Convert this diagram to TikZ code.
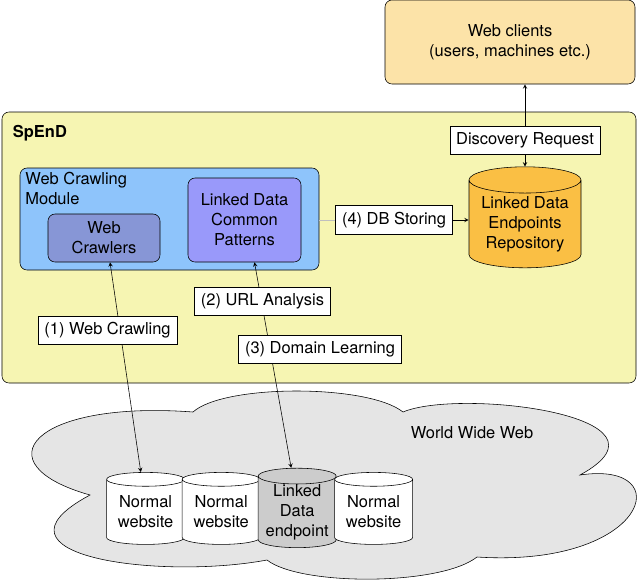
\documentclass[tikz,border=0pt]{standalone}
\usepackage{fontspec}
\setmainfont{TeX Gyre Heros}
\usetikzlibrary{shapes.geometric}
\definecolor{jaune}{RGB}{246,245,178}
\definecolor{clients}{RGB}{252,227,168}
\definecolor{module}{RGB}{142,196,251}
\definecolor{crawlers}{RGB}{135,150,214}
\definecolor{motifs}{RGB}{153,153,250}
\definecolor{depot}{RGB}{250,191,68}
\definecolor{nuage}{RGB}{229,229,229}
\definecolor{point}{RGB}{204,204,204}

\begin{document}
\begin{tikzpicture}[font=\fontsize{11.7}{14.2}\selectfont]
\tikzstyle{lien}=[<->,>=stealth,thin]
\tikzset{boite/.style={draw,thin,rounded corners=5pt,fill=#1,align=center},
boite/.default={white}}
\tikzset{etiquette/.style={draw,thin,fill=white,inner sep=4.5pt}}
\tikzset{base/.style={draw,thin,cylinder,shape border rotate=90,aspect=0.25,fill=#1,align=center,minimum width=1.95cm,minimum height=1.8cm,inner sep=0pt},
base/.default={white}}

\useasboundingbox (0,0) rectangle (16,-14.6);

% le nuage
\draw[thin,fill=nuage] (2.25,-12.375) .. controls (-0.5,-11.6) and (0.8,-10.0) .. (4.825,-10.3)
 .. controls (5.6,-9.6) and (9.2,-9.6) .. (10.075,-10.3)
 .. controls (11.5,-9.7) and (17.2,-10.4) .. (14.5,-11.875)
 .. controls (17.0,-11.5) and (16.2,-14.2) .. (11.925,-13.925)
 .. controls (11.0,-14.65) and (7.5,-14.65) .. (6.675,-14.0)
 .. controls (4.0,-14.5) and (-0.6,-13.9) .. cycle;
\node (T) at (11.8,-10.825) {World Wide Web};

\node[boite=jaune,minimum width=15.85cm,minimum height=6.775cm] (S) at (7.975,-6.1875) {};
\node[anchor=north west] (S0) at (0.2,-3.0) {\textbf{SpEnD}};

\node[boite=module,minimum width=7.475cm,minimum height=2.55cm] (M) at (4.2375,-5.475) {};
\node[anchor=north west,align=left,inner sep=0pt] (M0) at (0.63,-4.3) {Web Crawling\\Module};
\node[boite=crawlers,minimum width=2.8cm,minimum height=1.2cm] (M1) at (2.6,-5.95) {Web\\Crawlers};
\node[boite=motifs,minimum width=2.825cm,minimum height=2.1cm] (M2) at (6.1125,-5.5) {Linked Data\\Common\\Patterns};

\node[base=depot,minimum width=2.8cm,minimum height=2.525cm,aspect=0.3] (R) at (13.125,-5.6) {Linked Data\\Endpoints\\Repository};
\node[boite=clients,minimum width=6.25cm,minimum height=2.1cm] (C) at (12.75,-1.05) {Web clients\\(users, machines etc.)};

\node[base] (W1) at (3.64,-12.8) {Normal\\website};
\node[base] (W2) at (5.53,-12.8) {Normal\\website};
\node[base=point] (W3) at (7.43,-12.8) {Linked\\Data\\endpoint};
\node[base] (W4) at (9.34,-12.8) {Normal\\website};

\draw[lien] (C.south -| R.north) -- (R.north);
\draw[lien] ([xshift=0.15cm]M1.south) -- ([xshift=-0.12cm]W1.north);
\draw[lien] ([xshift=0.25cm]M2.south) -- ([xshift=-0.15cm]W3.north);

\node[etiquette] (E1) at (13.125,-3.5) {Discovery Request};
\node[etiquette] (E2) at (2.6875,-8.2625) {(1) Web Crawling};
\node[etiquette] (E3) at (6.5625,-7.5375) {(2) URL Analysis};
\node[etiquette] (E4) at (8.0,-8.725) {(3) Domain Learning};
\node[etiquette] (E5) at (9.85,-5.5) {(4) DB Storing};

\draw[thin,black!25] (M.east |- E5.west) -- (E5.west);
\draw[->,>=stealth,thin] (E5.east) -- (R.west |- E5.east);

\end{tikzpicture}
\end{document}
